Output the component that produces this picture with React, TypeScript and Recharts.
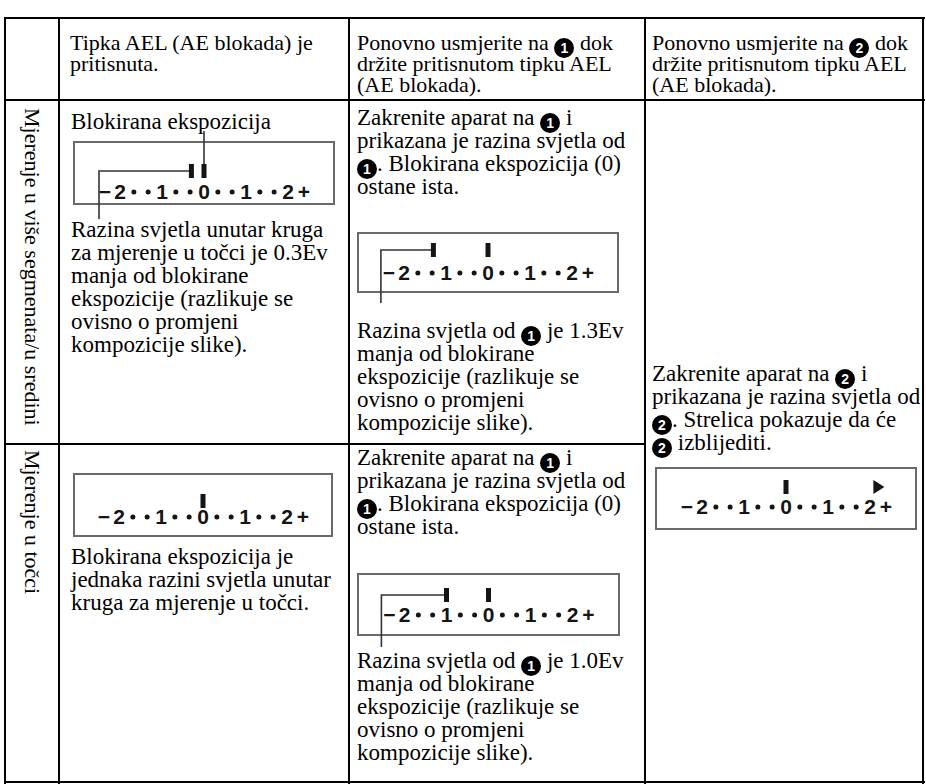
import React from 'react'
import { ScatterChart, Scatter, XAxis, YAxis } from 'recharts'

// exposure scale of the viewfinder read-out
const scaleTicks = [-2, -1, 0, 1, 2]
const scaleTickLabels = ['2', '1', '0', '1', '2']
const scaleDots = [-1.67, -1.33, -0.67, -0.33, 0.33, 0.67, 1.33, 1.67]
const scaleSigns = ['−', '+']
const scaleSignPos = [-2.36, 2.38]

// marker bars (Ev) for each read-out
const multiLockedMarks = [-0.3, 0]
const multiPoint1Marks = [-1.3, 0]
const spotLockedMarks = [0]
const spotPoint1Marks = [-1.0, 0]
const point2Marks = [0]
const point2Arrow = [2.2]

const UNIT = 42
const INK = '#151515'
const SERIF = '"Liberation Serif", "Times New Roman", serif'
const SANS = '"Liberation Sans", Arial, sans-serif'

function Badge({ n }: { n: string }) {
  return (
    <span
      style={{
        display: 'inline-block',
        width: 20,
        height: 20,
        borderRadius: 10,
        background: '#000',
        color: '#fff',
        fontFamily: SANS,
        fontWeight: 700,
        fontSize: 14,
        lineHeight: '20px',
        textAlign: 'center',
        verticalAlign: '-3px'
      }}
    >
      {n}
    </span>
  )
}

function TextLine({ x, y, text, size = 23, lh = 23 }: { x: number; y: number; text: string; size?: number; lh?: number }) {
  const parts = text.split(/(\{\d\})/)
  return (
    <div
      style={{
        position: 'absolute',
        left: x,
        top: y - lh / 2,
        height: lh,
        lineHeight: lh + 'px',
        fontSize: size,
        fontFamily: SERIF,
        whiteSpace: 'nowrap',
        color: '#000'
      }}
    >
      {parts.map((p, i) =>
        /^\{\d\}$/.test(p) ? <Badge key={i} n={p[1]} /> : <span key={i}>{p}</span>
      )}
    </div>
  )
}

function Block({ x, y, lines, step = 23, size = 23, lh = 23 }: { x: number; y: number; lines: string[]; step?: number; size?: number; lh?: number }) {
  return (
    <>
      {lines.map((t, i) => (
        <TextLine key={i} x={x} y={y + i * step} text={t} size={size} lh={lh} />
      ))}
    </>
  )
}

interface ScaleProps {
  left: number
  top: number
  width: number
  height: number
  marks: number[]
  arrow?: number[]
  barY: number
  numY: number
  extTop?: number
  extBottom?: number
  upCallout?: number
  leftCallout?: { mark: number; toX: number }
}

function ScaleDisplay({
  left, top, width, height, marks, arrow = [], barY, numY,
  extTop = 0, extBottom = 0, upCallout, leftCallout
}: ScaleProps) {
  const half = width / 2 / UNIT
  const chartH = height + extTop + extBottom
  const bY = extTop + barY
  const nY = extTop + numY
  const numbers = scaleTicks.map((ev, i) => ({ x: ev, y: nY, label: scaleTickLabels[i] }))
  const signs = scaleSignPos.map((ev, i) => ({ x: ev, y: nY, label: scaleSigns[i] }))
  const dots = scaleDots.map(ev => ({ x: ev, y: nY }))
  const bars = marks.map(ev => ({ x: ev, y: bY }))
  const arrows = arrow.map(ev => ({ x: ev, y: bY }))
  const callouts: { x: number; y: number }[][] = []
  if (upCallout !== undefined) callouts.push([{ x: upCallout, y: 0 }, { x: upCallout, y: bY - 6 }])
  if (leftCallout) {
    callouts.push([
      { x: leftCallout.mark, y: bY },
      { x: leftCallout.toX, y: bY },
      { x: leftCallout.toX, y: chartH }
    ])
  }

  const label = (p: any) => (
    <text x={p.cx} y={p.cy} textAnchor="middle" dominantBaseline="central"
      fontFamily={SANS} fontWeight={700} fontSize={21} fill={INK}>{p.payload.label}</text>
  )

  return (
    <>
      <div style={{
        position: 'absolute', left, top, width, height, boxSizing: 'border-box',
        border: '2px solid #6a6a6a', background: '#fff'
      }} />
      <div style={{ position: 'absolute', left, top: top - extTop, width, height: chartH }}>
        <ScatterChart width={width} height={chartH} margin={{ top: 0, right: 0, bottom: 0, left: 0 }}>
          <XAxis type="number" dataKey="x" domain={[-half, half]} hide allowDataOverflow />
          <YAxis type="number" dataKey="y" domain={[0, chartH]} reversed hide allowDataOverflow />
          {callouts.map((pts, i) => (
            <Scatter key={'c' + i} data={pts} line={{ stroke: '#333', strokeWidth: 1.6 }}
              shape={() => <g />} isAnimationActive={false} />
          ))}
          <Scatter data={numbers} shape={label} isAnimationActive={false} />
          <Scatter data={signs} shape={label} isAnimationActive={false} />
          <Scatter data={dots} isAnimationActive={false}
            shape={(p: any) => <circle cx={p.cx} cy={p.cy + 1} r={2.5} fill={INK} />} />
          <Scatter data={bars} isAnimationActive={false}
            shape={(p: any) => <rect x={p.cx - 2.5} y={p.cy - 7} width={5} height={14} fill={INK} />} />
          <Scatter data={arrows} isAnimationActive={false}
            shape={(p: any) => (
              <path d={`M${p.cx - 5},${p.cy - 7} L${p.cx + 6},${p.cy} L${p.cx - 5},${p.cy + 7} Z`} fill={INK} />
            )} />
        </ScatterChart>
      </div>
    </>
  )
}

const hLine = (y: number, x1: number, x2: number) => (
  <div style={{ position: 'absolute', left: x1, top: y - 1, width: x2 - x1, height: 2, background: '#000' }} />
)
const vLine = (x: number, y1: number, y2: number) => (
  <div style={{ position: 'absolute', left: x - 1, top: y1, width: 2, height: y2 - y1, background: '#000' }} />
)

export default function App() {
  const turnTo1 = ['Zakrenite aparat na {1} i', 'prikazana je razina svjetla od', '{1}. Blokirana ekspozicija (0)', 'ostane ista.']
  const tail = ['manja od blokirane', 'ekspozicije (razlikuje se', 'ovisno o promjeni', 'kompozicije slike).']
  return (
    <div style={{ position: 'absolute', left: 0, top: 0, width: 926, height: 784, background: '#fff', overflow: 'hidden' }}>
      {/* header */}
      <Block x={70} y={42} step={21} size={22} lh={21} lines={['Tipka AEL (AE blokada) je', 'pritisnuta.']} />
      <Block x={357} y={42} step={21} size={22} lh={21} lines={['Ponovno usmjerite na {1} dok', 'držite pritisnutom tipku AEL', '(AE blokada).']} />
      <Block x={652} y={42} step={21} size={22} lh={21} lines={['Ponovno usmjerite na {2} dok', 'držite pritisnutom tipku AEL', '(AE blokada).']} />

      {/* row labels */}
      <div style={{ position: 'absolute', left: 21, top: 108, writingMode: 'vertical-rl', fontFamily: SERIF, fontSize: 22, lineHeight: '22px', whiteSpace: 'nowrap', color: '#000' }}>
        Mjerenje u više segmenata/u sredini
      </div>
      <div style={{ position: 'absolute', left: 21, top: 450, writingMode: 'vertical-rl', fontFamily: SERIF, fontSize: 22, lineHeight: '22px', whiteSpace: 'nowrap', color: '#000' }}>
        Mjerenje u točci
      </div>

      {/* row 1 */}
      <Block x={71} y={121} lines={['Blokirana ekspozicija']} />
      <ScaleDisplay left={73} top={141} width={262} height={64} marks={multiLockedMarks}
        barY={30} numY={50} extTop={10} extBottom={14} upCallout={0}
        leftCallout={{ mark: multiLockedMarks[0], toX: -2.5 }} />
      <Block x={71} y={229} lines={['Razina svjetla unutar kruga', 'za mjerenje u točci je 0.3Ev', ...tail]} />

      <Block x={357} y={117} lines={turnTo1} />
      <ScaleDisplay left={357} top={232} width={262} height={61} marks={multiPoint1Marks}
        barY={18} numY={40} extBottom={10}
        leftCallout={{ mark: multiPoint1Marks[0], toX: -2.55 }} />
      <Block x={357} y={330} lines={['Razina svjetla od {1} je 1.3Ev', ...tail]} />

      {/* row 2 */}
      <ScaleDisplay left={73} top={473} width={260} height={64} marks={spotLockedMarks}
        barY={28} numY={43} />
      <Block x={71} y={556} lines={['Blokirana ekspozicija je', 'jednaka razini svjetla unutar', 'kruga za mjerenje u točci.']} />

      <Block x={357} y={457} lines={turnTo1} />
      <ScaleDisplay left={357} top={573} width={263} height={63} marks={spotPoint1Marks}
        barY={22} numY={41} extBottom={11}
        leftCallout={{ mark: spotPoint1Marks[0], toX: -2.55 }} />
      <Block x={357} y={660} lines={['Razina svjetla od {1} je 1.0Ev', ...tail]} />

      {/* merged column */}
      <Block x={652} y={373} lines={['Zakrenite aparat na {2} i', 'prikazana je razina svjetla od', '{2}. Strelica pokazuje da će', '{2} izblijediti.']} />
      <ScaleDisplay left={655} top={467} width={262} height={63} marks={point2Marks} arrow={point2Arrow}
        barY={20} numY={39} />

      {/* table rules */}
      {hLine(18, 4, 925)}
      {hLine(100, 4, 925)}
      {hLine(444, 4, 646)}
      {hLine(782, 4, 925)}
      {vLine(5, 17, 784)}
      {vLine(59, 17, 784)}
      {vLine(349, 17, 784)}
      {vLine(645, 17, 784)}
      {vLine(923, 17, 784)}
    </div>
  )
}
